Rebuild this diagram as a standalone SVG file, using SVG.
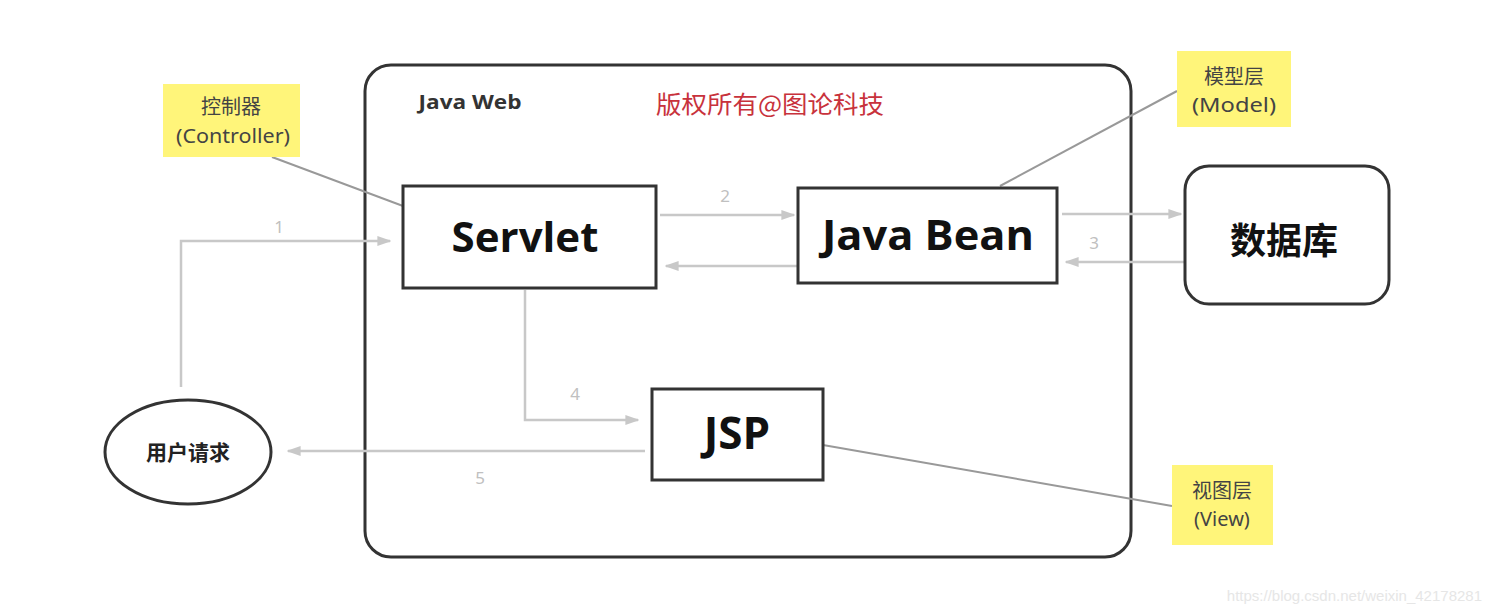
<svg xmlns="http://www.w3.org/2000/svg" width="1492" height="614" viewBox="0 0 1492 614">
<defs>
<style>
.box{fill:#fff;stroke:#333;stroke-width:3}
.note{fill:#fff57a;stroke:none}
.big{font-family:"Open Sans","Noto Sans CJK SC",sans-serif;font-weight:bold;fill:#111;text-anchor:middle}
.nt{font-family:"Noto Sans","Noto Sans CJK SC",sans-serif;font-size:20px;fill:#444;text-anchor:middle}
.conn{fill:none;stroke:#c8c8c8;stroke-width:2.5}
.lead{fill:none;stroke:#999;stroke-width:2}
.num{font-family:"Noto Sans",sans-serif;font-size:17px;fill:#c0c0c0;text-anchor:middle}
</style>
<marker id="ah2" viewBox="0 0 10 10" refX="9" refY="5" markerWidth="14" markerHeight="14" orient="auto" markerUnits="userSpaceOnUse">
<path d="M0,1.5 L10,5 L0,8.5 Z" fill="#c8c8c8"/>
</marker>
</defs>
<rect width="1492" height="614" fill="#fff"/>

<g id="javaweb">
<rect x="365" y="65" width="766" height="492" rx="26" class="box"/>
<text x="470" y="109" font-family="'Open Sans',sans-serif" font-weight="bold" font-size="20" fill="#333" text-anchor="middle" textLength="103" lengthAdjust="spacingAndGlyphs">Java Web</text>
<text x="770" y="113" font-family="'Noto Sans CJK SC',sans-serif" font-size="24" fill="#c8323c" text-anchor="middle" textLength="228" lengthAdjust="spacingAndGlyphs">版权所有@图论科技</text>
</g>

<g id="connectors">
<path class="conn" d="M181,387 V241 H390" marker-end="url(#ah2)"/>
<text class="num" x="279" y="233">1</text>
<path class="conn" d="M660,215 H794" marker-end="url(#ah2)"/>
<text class="num" x="725" y="202">2</text>
<path class="conn" d="M798,266 H666" marker-end="url(#ah2)"/>
<path class="conn" d="M1062,214 H1181" marker-end="url(#ah2)"/>
<path class="conn" d="M1185,262 H1066" marker-end="url(#ah2)"/>
<text class="num" x="1094" y="249">3</text>
<path class="conn" d="M525,290 V420 H638" marker-end="url(#ah2)"/>
<text class="num" x="575" y="400">4</text>
<path class="conn" d="M645,451 H288" marker-end="url(#ah2)"/>
<text class="num" x="480" y="484">5</text>
<path class="lead" d="M272,157 L403,206"/>
<path class="lead" d="M1000,186 L1177,91"/>
<path class="lead" d="M823,445 L1172,506"/>
</g>

<g id="controller">
<rect class="note" x="163" y="84" width="137" height="73"/>
<text class="nt" x="231" y="114">控制器</text>
<text class="nt" x="233" y="143" textLength="114" lengthAdjust="spacingAndGlyphs">(Controller)</text>
</g>

<g id="servlet">
<rect class="box" x="403" y="186" width="253" height="102"/>
<text class="big" x="525" y="252" font-size="42">Servlet</text>
</g>

<g id="javabean">
<rect class="box" x="798" y="188" width="259" height="95"/>
<text class="big" x="928" y="250" font-size="41" textLength="212" lengthAdjust="spacingAndGlyphs">Java Bean</text>
</g>

<g id="model">
<rect class="note" x="1177" y="51" width="114" height="76"/>
<text class="nt" x="1234" y="84">模型层</text>
<text class="nt" x="1234" y="112" textLength="84" lengthAdjust="spacingAndGlyphs">(Model)</text>
</g>

<g id="database">
<rect class="box" x="1185" y="166" width="204" height="138" rx="24"/>
<text class="big" x="1284" y="254" font-size="36" font-family="'Noto Sans CJK SC',sans-serif">数据库</text>
</g>

<g id="jsp">
<rect class="box" x="652" y="389" width="171" height="91"/>
<text class="big" x="737" y="449" font-size="44">JSP</text>
</g>

<g id="user">
<ellipse cx="188" cy="452" rx="83" ry="52" class="box"/>
<text x="188" y="460" font-family="'Noto Sans CJK SC',sans-serif" font-size="21" font-weight="bold" fill="#222" text-anchor="middle">用户请求</text>
</g>

<g id="view">
<rect class="note" x="1172" y="465" width="101" height="80"/>
<text class="nt" x="1222" y="498">视图层</text>
<text class="nt" x="1222" y="526">(View)</text>
</g>

<text x="1482" y="601" font-family="'Liberation Sans',sans-serif" font-size="15" fill="#e6e6e6" text-anchor="end">https://blog.csdn.net/weixin_42178281</text>
</svg>
